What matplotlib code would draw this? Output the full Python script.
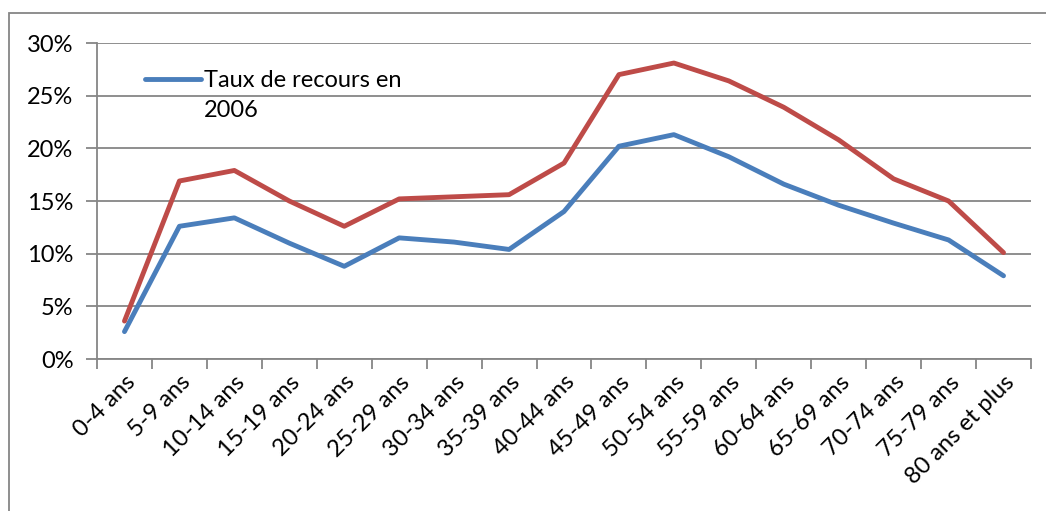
import matplotlib
matplotlib.use("Agg")
import matplotlib.pyplot as plt
from matplotlib.patches import Rectangle
from matplotlib.lines import Line2D
from matplotlib.transforms import ScaledTranslation

# Donnees
categories = ["0-4 ans", "5-9 ans", "10-14 ans", "15-19 ans", "20-24 ans",
              "25-29 ans", "30-34 ans", "35-39 ans", "40-44 ans", "45-49 ans",
              "50-54 ans", "55-59 ans", "60-64 ans", "65-69 ans", "70-74 ans",
              "75-79 ans", "80 ans et plus"]
taux_2006 = [2.6, 12.6, 13.4, 11.0, 8.8, 11.5, 11.1, 10.4, 14.0, 20.2,
             21.3, 19.2, 16.6, 14.6, 12.9, 11.3, 7.9]
taux_autre = [3.6, 16.9, 17.9, 15.0, 12.6, 15.2, 15.4, 15.6, 18.6, 27.0,
              28.1, 26.4, 23.9, 20.8, 17.1, 15.0, 10.1]
yticks = [0, 5, 10, 15, 20, 25, 30]

plt.rcParams['font.family'] = ['Lato', 'DejaVu Sans']
gris = "#868686"
taille = 17

fig = plt.figure(figsize=(10.46, 5.11), dpi=100)
ax = fig.add_axes([97/1046, 1-359/511, (1031-97)/1046, (359-43)/511])

# cadre exterieur du graphique
fig.patches.append(Rectangle((8.5/1046, -0.05), 1.1, 1.05-13/511,
                             transform=fig.transFigure, fill=False,
                             edgecolor=gris, linewidth=1.3))

x = list(range(len(categories)))
ligne1, = ax.plot(x, taux_2006, color="#4A7EBB", linewidth=3.5,
                  solid_capstyle="round", zorder=3)
ax.plot(x, taux_autre, color="#BE4B48", linewidth=3.5,
        solid_capstyle="round", zorder=3)

ax.set_xlim(-0.5, len(categories) - 0.5)
ax.set_ylim(0, 30)
ax.set_yticks(yticks)
ax.set_yticklabels([str(v) + "%" for v in yticks], fontsize=taille)
ax.yaxis.grid(True, color=gris, linewidth=1.3)
ax.set_axisbelow(True)

ax.set_xticks([i - 0.5 for i in range(len(categories) + 1)])
ax.set_xticklabels([])
ax.set_xticks(x, minor=True)
ax.set_xticklabels(categories, minor=True, rotation=45, ha="right",
                   va="top", rotation_mode="anchor", fontsize=taille)
decalage = ScaledTranslation(6/100, 0, fig.dpi_scale_trans)
for lab in ax.get_xticklabels(minor=True):
    lab.set_transform(lab.get_transform() + decalage)
ax.tick_params(axis="x", which="minor", length=0, pad=9)
ax.tick_params(axis="x", which="major", length=7, color=gris, width=1.3)
ax.tick_params(axis="y", length=8, color=gris, width=1.3, pad=9)

for s in ["top", "right"]:
    ax.spines[s].set_visible(False)
for s in ["left", "bottom"]:
    ax.spines[s].set_color(gris)
    ax.spines[s].set_linewidth(1.3)

vide = Line2D([], [], color="none")
ax.legend([ligne1, vide], ["Taux de recours en", "2006"], loc="upper left",
          bbox_to_anchor=(0.051, 0.913), frameon=False, fontsize=taille,
          handlelength=2.4, handletextpad=0.1, borderpad=0,
          borderaxespad=0, labelspacing=0.35)

fig.savefig("out.png", dpi=100)
